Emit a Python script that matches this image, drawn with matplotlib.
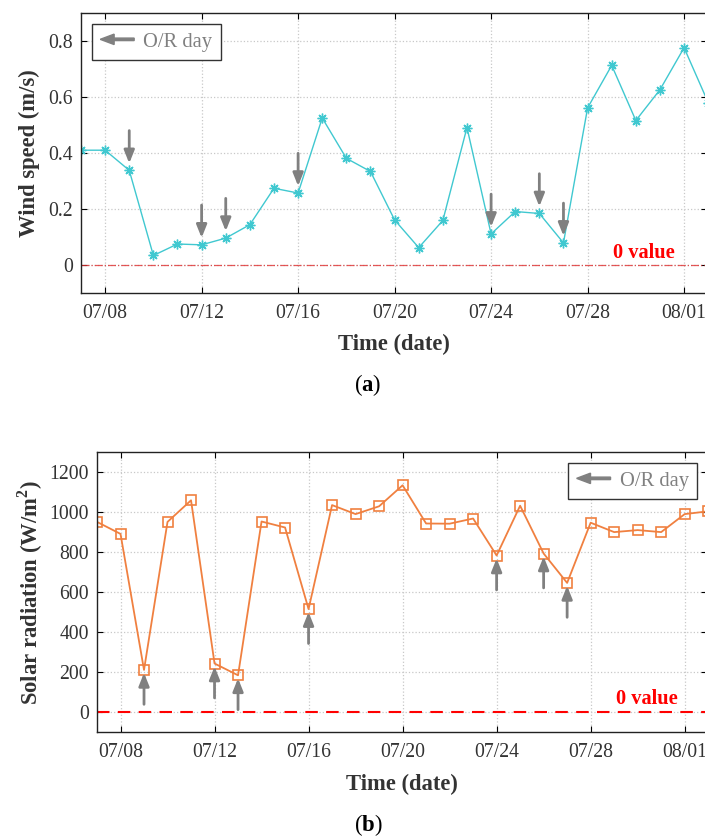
import numpy as np
import pandas as pd
import matplotlib
matplotlib.use("Agg")
import matplotlib.pyplot as plt
import matplotlib.dates as mdates
import matplotlib.patches as mpatches
from matplotlib.legend_handler import HandlerPatch

plt.rcParams['font.family'] = ['Liberation Serif', 'DejaVu Serif']
plt.rcParams['mathtext.fontset'] = 'custom'
plt.rcParams['mathtext.rm'] = 'Liberation Serif'
plt.rcParams['mathtext.bf'] = 'Liberation Serif:bold'

# dados
datas = pd.date_range("2019-07-07", "2019-08-02", freq="D")
vento = [0.41, 0.41, 0.338, 0.034, 0.075, 0.072, 0.096, 0.144, 0.274, 0.257,
         0.525, 0.381, 0.334, 0.161, 0.062, 0.159, 0.491, 0.111, 0.191, 0.184,
         0.079, 0.561, 0.713, 0.516, 0.626, 0.776, 0.58]
radiacao = [952, 892, 212, 952, 1060, 244, 185, 954, 924, 516,
            1036, 991, 1030, 1135, 944, 943, 969, 784, 1033, 794,
            647, 948, 901, 911, 901, 991, 1005]
dias_or = ["2019-07-09", "2019-07-12", "2019-07-13", "2019-07-16",
           "2019-07-24", "2019-07-26", "2019-07-27"]

cor_texto = '#333333'
cinza = '#808080'


def seta_legenda(legend, orig_handle, xdescent, ydescent, width, height, fontsize):
    return mpatches.FancyArrow(width, height / 2, -width, 0, width=1.8,
                               head_width=7.5, head_length=10,
                               length_includes_head=True)


def configurar_eixo(ax, ylabel, pad_y):
    ax.set_xlim(pd.Timestamp("2019-07-07"), pd.Timestamp("2019-08-02") - pd.Timedelta(hours=1.2))
    ax.xaxis.set_major_locator(mdates.DayLocator(bymonthday=[1, 8, 12, 16, 20, 24, 28]))
    ax.xaxis.set_major_formatter(mdates.DateFormatter("%m/%d"))
    ax.grid(True, linestyle=':', color='#c8c8c8', linewidth=0.9)
    ax.tick_params(direction='in', top=True, right=True, length=4, width=0.8,
                   labelsize=14.2, colors='black', labelcolor=cor_texto, pad=6)
    ax.tick_params(axis='x', pad=8)
    for s in ax.spines.values():
        s.set_linewidth(1.0)
        s.set_color('#222222')
    ax.set_xlabel("Time (date)", fontsize=16.3, fontweight='bold', color=cor_texto, labelpad=8)
    ax.set_ylabel(ylabel, fontsize=16.3, fontweight='bold', color=cor_texto, labelpad=pad_y)


fig = plt.figure(figsize=(7.05, 8.38), dpi=100)

# (a) velocidade do vento
ax1 = fig.add_axes([81 / 705, 1 - 293 / 838, 626 / 705, 280 / 838])
ax1.plot(datas, vento, color='#40C8D0', linewidth=1.0, marker=(8, 2, 0),
         markersize=7, markeredgewidth=1.0)
ax1.axhline(0, color='#e03030', linestyle='-.', linewidth=0.9, alpha=0.8)
ax1.set_ylim(-0.1, 0.9)
ax1.set_yticks([0, 0.2, 0.4, 0.6, 0.8])
ax1.set_yticklabels(['0', '0.2', '0.4', '0.6', '0.8'])
configurar_eixo(ax1, "Wind speed (m/s)", 5.5)
serie_vento = pd.Series(vento, index=datas)
for d in dias_or:
    v = serie_vento[pd.Timestamp(d)]
    ax1.annotate('', xy=(pd.Timestamp(d), v + 0.025), xytext=(pd.Timestamp(d), v + 0.142),
                 arrowprops=dict(arrowstyle='-|>,head_length=0.55,head_width=0.22',
                                 color=cinza, lw=2, mutation_scale=14,
                                 shrinkA=0, shrinkB=0))
ax1.text(0.949, 0.143, "0 value", transform=ax1.transAxes, color='red',
         fontsize=14.7, fontweight='bold', ha='right', va='center')
h1 = mpatches.Patch(color=cinza)
leg1 = ax1.legend([h1], ["O/R day"], loc='upper left', bbox_to_anchor=(0.0176, 0.961),
                  borderaxespad=0, fancybox=False, edgecolor='#333333', framealpha=1,
                  fontsize=14.8, handlelength=1.65, handletextpad=0.45, borderpad=0.4,
                  labelcolor=cinza, handler_map={mpatches.Patch: HandlerPatch(patch_func=seta_legenda)})
leg1.get_frame().set_linewidth(1.0)
fig.text(368 / 705, 1 - 385 / 838, r'($\mathbf{a}$)', fontsize=16.3, ha='center', va='center',
         color='black')

# (b) radiação solar
ax2 = fig.add_axes([97 / 705, 1 - 732.3 / 838, 610 / 705, 280 / 838])
ax2.plot(datas, radiacao, color='#F08040', linewidth=1.3, marker='s',
         markersize=7, markerfacecolor='none', markeredgewidth=1.2)
ax2.axhline(0, color='red', linestyle=(0, (6, 4)), linewidth=1.5)
ax2.set_ylim(-100, 1300)
ax2.set_yticks([0, 200, 400, 600, 800, 1000, 1200])
configurar_eixo(ax2, r"Solar radiation (W/m$^\mathbf{2}$)", 3)
serie_rad = pd.Series(radiacao, index=datas)
for d in dias_or:
    v = serie_rad[pd.Timestamp(d)]
    ax2.annotate('', xy=(pd.Timestamp(d), v - 15), xytext=(pd.Timestamp(d), v - 172),
                 arrowprops=dict(arrowstyle='-|>,head_length=0.55,head_width=0.22',
                                 color=cinza, lw=2, mutation_scale=14,
                                 shrinkA=0, shrinkB=0))
ax2.text(0.952, 0.118, "0 value", transform=ax2.transAxes, color='red',
         fontsize=14.7, fontweight='bold', ha='right', va='center')
h2 = mpatches.Patch(color=cinza)
leg2 = ax2.legend([h2], ["O/R day"], loc='upper right', bbox_to_anchor=(0.9836, 0.962),
                  borderaxespad=0, fancybox=False, edgecolor='#333333', framealpha=1,
                  fontsize=14.8, handlelength=1.65, handletextpad=0.45, borderpad=0.4,
                  labelcolor=cinza, handler_map={mpatches.Patch: HandlerPatch(patch_func=seta_legenda)})
leg2.get_frame().set_linewidth(1.0)
fig.text(368 / 705, 1 - 825 / 838, r'($\mathbf{b}$)', fontsize=16.3, ha='center', va='center',
         color='black')

fig.savefig("out.png", dpi=100)
